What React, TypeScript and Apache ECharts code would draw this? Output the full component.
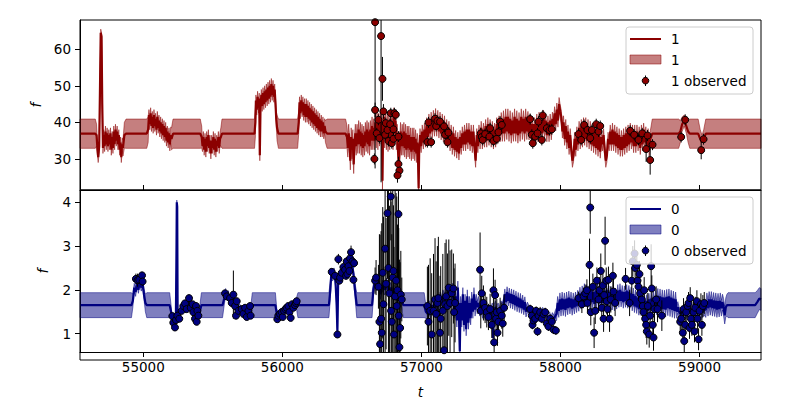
import React, { useEffect, useRef } from "react";
import * as echarts from "echarts";

const X_MIN = 54545;
const X_MAX = 59442;
const xTicks = [55000, 56000, 57000, 58000, 59000];
const topTicks = [30, 40, 50, 60];
const botTicks = [1, 2, 3, 4];
const topRange = [21.5, 68.0];
const botRange = [0.58, 4.28];

const topName = "1";
const botName = "0";

// GP fit rows: [t, mean, half-width of band]
const topGp: number[][] = [
  [54545,36.9,4],[54655,36.9,4],[54664,36.5,3],[54670,33,2],[54676,30.5,1.5],[54683,33.5,1.5],[54689,50,1.5],[54694,64.5,1],[54700,63.5,1],[54705,45,1.5],
  [54710,33,1.5],[54716,36.5,1.5],[54722,33.5,1.5],[54728,37.5,1.5],[54734,34,1.5],[54740,37,1.5],[54746,33.5,1.5],[54752,36.5,1.5],[54758,34,1.5],[54764,37,1.5],
  [54770,32.5,1.5],[54776,36,1.5],[54782,33,1.5],[54788,37.5,1.5],[54794,34,1.5],[54800,38,1.5],[54806,35,1.5],[54812,37.5,1.5],[54818,34,1.5],[54824,36.5,1.5],
  [54830,32.5,1.5],[54836,34.5,1.5],[54842,30.5,1.5],[54848,34,1.8],[54854,33,2.2],[54864,36.5,3.5],[54876,36.9,4],
  [55025,36.9,4],[55035,38,3.5],[55041,42,1.5],[55047,39.5,1.5],[55053,42.5,1.5],[55059,39,1.5],[55065,41.5,1.5],[55071,38.5,1.5],[55077,42,1.5],[55083,39,1.5],
  [55089,41,1.5],[55095,38,1.5],[55101,41.5,1.5],[55107,38.5,1.5],[55113,40.5,1.5],[55119,37.5,1.5],[55125,40,1.5],[55131,37,1.5],[55137,39.5,1.5],[55143,36.5,1.5],
  [55149,39,1.5],[55155,36,1.5],[55161,38.5,1.5],[55167,35,1.5],[55173,37.5,1.5],[55179,34.5,1.5],[55185,37,1.5],[55191,34,1.8],[55197,36.5,2.2],[55203,35.5,3],
  [55214,36.9,4],
  [55410,36.9,4],[55420,36,3],[55426,33.5,1.5],[55432,36,1.5],[55438,32.5,1.5],[55444,35.5,1.5],[55450,32,1.5],[55456,36,1.5],[55462,33.5,1.5],[55468,36.5,1.5],
  [55474,33,1.5],[55480,35,1.5],[55486,31.5,1.5],[55492,35,1.5],[55498,33,1.5],[55504,36,1.5],[55510,32.5,1.5],[55516,35.5,1.5],[55522,32,1.5],[55528,35,1.5],
  [55534,33.5,1.5],[55540,36,1.5],[55546,33,1.5],[55552,35.5,1.8],[55558,36,2.5],[55566,36.9,4],
  [55800,36.9,4],[55806,40,4],[55810,46,1.5],[55816,43.5,1.5],[55822,47,1.5],[55828,44,1.5],[55834,46.5,1.5],[55838,31,1.5],[55843,44,1.5],[55849,47.5,1.5],
  [55855,44.5,1.5],[55861,48,1.5],[55867,45,1.5],[55873,48.5,1.5],[55879,45.5,1.5],[55885,49,1.5],[55891,46,1.5],[55897,49.5,1.5],[55903,46.5,1.5],[55909,50,1.5],
  [55915,47,1.5],[55921,50.5,1.5],[55927,47.5,1.5],[55933,50,1.5],[55939,47,1.5],[55945,49,1.5],[55951,45,1.5],[55956,41,2],[55962,38.5,3.5],[55972,36.9,4],
  [56110,36.9,4],[56118,40,3],[56124,45.5,1.5],[56130,42.5,1.5],[56136,46,1.5],[56142,43,1.5],[56148,45.5,1.5],[56154,42,1.5],[56160,45,1.5],[56166,41.5,1.5],
  [56172,45,1.5],[56178,41.5,1.5],[56184,44.5,1.5],[56190,41,1.5],[56196,44,1.5],[56202,40.5,1.5],[56208,43.5,1.5],[56214,40,1.5],[56220,43,1.5],[56226,39.5,1.5],
  [56232,42.5,1.5],[56238,39,1.5],[56244,42,1.5],[56250,38.5,1.5],[56256,41.5,1.5],[56262,38,1.5],[56268,41,1.5],[56274,37.5,1.5],[56280,40.5,1.5],[56286,37.5,1.5],
  [56292,40,1.5],[56298,37,1.5],[56304,39,2],[56310,37.5,3],[56322,36.9,4],
  [56455,36.9,4],[56465,36,3],[56471,33,2.5],[56477,37,2.5],[56483,34,2.5],[56489,29.5,2.5],[56495,36,2.5],[56501,32.5,2.5],[56507,35.5,2.5],[56513,28.5,2.5],
  [56519,34,2.5],[56525,37,2.5],[56531,33.5,2.5],[56537,37,2.5],[56543,34,2.5],[56549,38,2.5],[56555,34,2.5],[56561,37.5,2.5],[56567,33.5,2.5],[56573,37,2.5],
  [56579,33,2.5],[56585,36.5,2.5],[56591,33.5,2.5],[56597,37.5,2.5],[56603,34.5,2.5],[56609,38,2.5],[56615,34,2.5],[56621,37.5,2.5],[56627,33.5,2.5],[56633,38,2.5],
  [56639,35,2.5],[56645,39,2.5],[56651,35,2.5],[56657,38.5,2.5],[56663,35,2.5],[56669,40,2.5],[56675,35.5,2.5],[56681,41,2.5],[56687,35,2.5],[56693,40,2.5],
  [56699,36,2.5],[56705,41,2.5],[56711,36.5,2.5],[56717,40,2.5],[56720,24,2.5],[56724,38,2.5],[56730,41.5,2.5],[56736,35.5,2.5],[56742,40,2.5],[56748,35,2.5],
  [56754,40.5,2.5],[56760,34.5,2.5],[56766,39.5,2.5],[56772,35,2.5],[56778,41,2.5],[56784,36,2.5],[56790,40,2.5],[56796,35,2.5],[56802,41.5,2.5],[56808,37,2.5],
  [56814,40.5,2.5],[56820,35,2.5],[56826,37,2.5],[56832,32,2.5],[56838,28.5,2.5],[56844,33,2.5],[56850,37.5,2.5],[56856,33.5,2.5],[56862,37,2.5],[56868,33.5,2.5],
  [56874,37.5,2.5],[56880,33,2.5],[56886,37,2.5],[56892,32.5,2.5],[56898,36.5,2.5],[56904,33,2.5],[56910,36.5,2.5],[56916,32.5,2.5],[56922,36,2.5],[56928,32,2.5],
  [56934,36,2.5],[56940,32.5,2.5],[56946,36,2.5],[56952,32,2.5],[56958,35.5,2.5],[56964,31.5,2.5],[56970,34.5,2.5],[56976,29.5,2.5],[56980,22,2.5],[56984,32,2.5],
  [56990,36.5,1.8],[56998,33.5,1.8],[57006,37.5,1.8],[57014,34.5,1.8],[57022,38,1.8],[57030,35,1.8],[57038,39.5,1.8],[57046,36,1.8],[57054,40.5,1.8],[57062,37,1.8],
  [57070,41,1.8],[57078,37.5,1.8],[57086,41.5,1.8],[57094,38,1.8],[57102,42,1.8],[57110,38,1.8],[57118,41.5,1.8],[57126,37.5,1.8],[57134,41,1.8],[57142,37,1.8],
  [57150,40.5,1.8],[57158,36.5,1.8],[57166,40,1.8],[57174,35.5,1.8],[57182,39,1.8],[57190,35,1.8],[57198,38.5,1.8],[57206,34,1.8],[57214,37.5,1.8],[57222,33,1.8],
  [57230,37,1.8],[57238,32.5,1.8],[57246,36,1.8],[57254,32,1.8],[57262,35.5,1.8],[57270,31.5,1.8],[57278,36,1.8],[57286,33,1.8],[57294,37,1.8],[57302,34,1.8],
  [57310,37.5,1.8],[57318,34,1.8],[57326,38,1.8],[57334,34.5,1.8],[57342,38,1.8],[57350,34,1.8],[57358,37.5,1.8],[57366,33.5,1.8],[57374,37.5,1.8],[57382,33,1.8],
  [57390,29.5,1.8],[57398,36.5,1.8],[57406,33.5,1.8],[57414,37.5,1.8],[57422,34.5,1.8],[57430,38.5,1.8],[57438,34.5,1.8],[57446,38,1.8],[57454,35,1.8],[57462,39,1.8],
  [57470,35,1.8],[57478,39.5,1.8],[57486,35.5,1.8],[57494,39,1.8],[57502,35,1.8],[57510,38.5,1.8],[57518,34.5,1.8],[57526,38,1.8],[57534,35,1.8],[57542,39.5,1.8],
  [57550,36,1.8],[57558,40,1.8],[57566,36.5,1.8],[57574,40.5,2.2],[57582,37,2.2],[57590,41,2.2],[57598,37,2.2],[57606,41.5,2.2],[57614,37.5,2.2],[57622,41.5,2.2],
  [57630,37,2.2],[57638,41,2.2],[57646,36.5,2.2],[57654,40.5,2.2],[57662,37,2.2],[57670,41.5,2.2],[57678,37,2.2],[57686,41,2.2],[57694,36.5,2.2],[57702,40.5,2.2],
  [57710,37,2.2],[57718,41.5,2.2],[57726,37.5,2.2],[57734,41,2.2],[57742,37,2.2],[57750,41.5,2.2],[57758,37.5,2.2],[57766,41,2],[57774,37,1.8],[57782,40.5,1.8],
  [57790,36,1.8],[57798,39.5,1.8],[57806,35.5,1.8],[57814,39.5,1.8],[57822,36,1.8],[57830,40.5,1.8],[57838,36.5,1.8],[57846,41,1.8],[57854,37,1.8],[57862,40.5,1.8],
  [57870,37,1.8],[57878,41.5,1.8],[57886,37.5,1.8],[57894,40.5,1.8],[57902,36.5,1.8],[57910,40,1.8],[57918,36.5,1.8],[57926,40.5,1.8],[57934,37,1.8],[57942,41,1.8],
  [57950,39,1.8],[57958,42.5,1.8],[57966,39.5,1.8],[57974,43.5,1.8],[57982,40.5,1.8],[57990,45,1.8],[57998,43,1.8],[58006,41.5,1.8],[58014,37.5,1.8],[58022,40,1.8],
  [58030,35.5,1.8],[58038,39,1.8],[58046,34.5,1.8],[58054,37.5,1.8],[58062,33,1.8],[58070,36.5,1.8],[58078,32.5,1.8],[58086,29.5,1.8],[58094,31,1.8],[58102,35.5,1.8],
  [58110,32.5,1.8],[58118,37,1.8],[58126,34,1.8],[58134,38.5,1.8],[58142,34.5,1.8],[58150,39,1.8],[58158,35,1.8],[58166,39.5,1.8],[58174,35.5,1.8],[58182,39.5,1.8],
  [58190,35,1.8],[58198,39,1.8],[58206,34.5,1.8],[58214,38.5,1.8],[58222,34,1.8],[58230,38,1.8],[58238,33.5,1.8],[58246,37.5,1.8],[58254,33,1.8],[58262,37,1.8],
  [58270,32.5,1.8],[58278,36.5,1.8],[58286,32,1.8],[58294,36,1.8],[58302,34,1.8],[58310,36.5,1.8],[58318,32.5,1.8],[58326,29.5,1.8],[58334,31,1.8],[58342,35.5,1.8],
  [58350,34,1.8],[58358,37.5,1.8],[58366,34,1.8],[58374,38,1.8],[58382,34,1.8],[58390,37.5,1.8],[58398,33.5,1.8],[58406,37,1.8],[58414,33,1.8],[58422,36.5,1.8],
  [58430,32.5,1.8],[58438,36,1.8],[58446,32.5,1.8],[58454,36.5,1.8],[58462,33,1.8],[58470,37,1.8],[58478,33.5,1.8],[58486,37.5,1.8],[58494,34,1.8],[58502,38,1.8],
  [58510,34.5,1.8],[58518,37.5,1.8],[58526,33.5,1.8],[58534,37.5,1.8],[58542,33.5,1.8],[58550,37.5,1.8],[58558,34,1.8],[58566,37,1.8],[58574,33,1.8],[58582,37.5,1.8],
  [58590,34,1.8],[58598,38,1.8],[58606,34.5,1.8],[58614,37,1.8],[58622,33.5,1.8],[58630,36.5,1.8],[58638,32.5,1.8],[58646,35.5,2.2],[58652,36,3],[58660,36.9,4],
  [58850,36.9,4],[58862,37.5,3],[58875,39.5,2],[58890,40.5,1.5],[58905,39,2],[58918,37.5,3],[58930,36.9,4],
  [58990,36.9,4],[59005,35.5,2.5],[59018,34.5,2],[59030,35.5,2.5],[59045,36.9,4],[59442,36.9,4]
];

const botGp: number[][] = [
  [54545,1.65,0.285],[54915,1.65,0.285],[54925,1.75,0.15],[54935,2.05,0.1],[54945,1.95,0.1],[54955,2.15,0.08],[54965,2.0,0.08],[54975,2.2,0.08],[54985,2.05,0.08],
  [54995,2.15,0.1],[55005,1.9,0.12],[55015,1.7,0.2],[55025,1.65,0.285],
  [55190,1.65,0.285],[55200,1.5,0.15],[55208,1.3,0.08],[55216,1.2,0.08],[55226,1.35,0.08],[55234,1.25,0.08],[55238,2.5,0.1],[55241,4.0,0.05],[55244,3.9,0.05],
  [55247,1.4,0.08],[55256,1.35,0.08],[55266,1.5,0.08],[55276,1.55,0.08],[55286,1.65,0.08],[55296,1.6,0.08],[55306,1.55,0.08],[55316,1.65,0.08],[55326,1.75,0.08],
  [55336,1.6,0.08],[55346,1.55,0.08],[55356,1.6,0.08],[55366,1.45,0.08],[55376,1.35,0.08],[55386,1.3,0.08],[55396,1.4,0.08],[55406,1.5,0.12],[55418,1.65,0.285],
  [55570,1.65,0.285],[55582,1.8,0.15],[55592,1.95,0.08],[55602,1.85,0.08],[55612,1.9,0.08],[55622,1.75,0.08],[55632,1.8,0.08],[55642,1.7,0.08],[55652,1.75,0.08],
  [55662,1.65,0.08],[55672,1.7,0.08],[55682,1.55,0.08],[55692,1.6,0.08],[55702,1.55,0.08],[55712,1.5,0.08],[55722,1.55,0.08],[55732,1.5,0.08],[55742,1.45,0.08],
  [55752,1.5,0.08],[55762,1.55,0.08],[55772,1.5,0.1],[55784,1.65,0.285],
  [55950,1.65,0.285],[55960,1.45,0.12],[55970,1.4,0.08],[55980,1.45,0.08],[55990,1.5,0.08],[56000,1.45,0.08],[56010,1.52,0.08],[56020,1.55,0.08],[56030,1.6,0.08],
  [56040,1.58,0.08],[56050,1.62,0.08],[56060,1.58,0.08],[56070,1.65,0.08],[56080,1.62,0.08],[56090,1.68,0.08],[56100,1.7,0.1],[56112,1.65,0.285],
  [56335,1.65,0.285],[56345,2.0,0.2],[56352,2.35,0.1],[56362,2.3,0.1],[56372,2.4,0.1],[56382,2.2,0.1],[56390,1.7,0.1],[56396,1.05,0.08],[56402,2.3,0.1],
  [56412,2.25,0.1],[56422,2.35,0.1],[56432,2.45,0.1],[56442,2.4,0.1],[56452,2.5,0.1],[56462,2.55,0.1],[56472,2.5,0.1],[56482,2.6,0.1],[56492,2.7,0.1],
  [56502,2.55,0.1],[56512,2.35,0.1],[56522,2.0,0.15],[56535,1.65,0.285],
  [56645,1.65,0.285],[56655,2.0,0.15],[56665,2.2,0.1],[56675,2.1,0.12],[56690,2.2,0.12],[56705,1.9,0.12],[56720,2.1,0.12],[56735,2.0,0.12],[56750,2.15,0.12],
  [56765,1.95,0.12],[56780,2.05,0.12],[56795,1.9,0.12],[56810,2.0,0.12],[56825,1.85,0.12],[56840,1.95,0.12],[56855,1.8,0.15],[56870,1.65,0.285],
  [57020,1.65,0.285],[57032,1.5,0.15],[57045,1.45,0.15],[57055,1.6,0.15],[57065,1.5,0.15],[57075,1.65,0.15],[57085,1.55,0.15],[57095,1.7,0.15],[57105,1.6,0.15],
  [57115,1.75,0.15],[57125,1.65,0.15],[57135,1.8,0.15],[57145,1.7,0.15],[57155,1.85,0.15],[57165,1.75,0.15],[57175,1.9,0.15],[57185,1.8,0.15],[57195,1.95,0.15],
  [57205,1.85,0.15],[57215,1.9,0.15],[57225,2.0,0.15],[57235,1.5,0.15],[57245,1.85,0.15],[57255,1.3,0.15],[57262,2.05,0.15],[57270,1.4,0.15],[57276,0.6,0.1],
  [57282,1.7,0.15],[57290,1.3,0.15],[57298,1.9,0.15],[57306,1.2,0.15],[57314,1.75,0.15],[57322,1.1,0.15],[57330,1.85,0.15],[57338,1.25,0.15],[57346,1.7,0.15],
  [57354,1.35,0.15],[57362,1.8,0.15],[57370,1.5,0.15],[57378,1.9,0.15],[57386,1.55,0.15],[57394,1.75,0.15],[57402,1.6,0.15],[57410,1.7,0.15],[57420,1.55,0.15],
  [57430,1.65,0.15],[57440,1.5,0.15],[57450,1.6,0.15],[57460,1.45,0.15],[57470,1.55,0.15],[57480,1.4,0.15],[57490,1.5,0.15],[57500,1.45,0.15],[57510,1.55,0.15],
  [57516,0.9,0.1],[57522,1.5,0.15],[57532,1.6,0.15],[57542,1.5,0.15],[57552,1.55,0.15],[57562,1.45,0.15],[57572,1.6,0.15],[57582,1.55,0.15],
  [57592,1.7,0.12],[57600,1.9,0.12],[57608,1.72,0.12],[57616,1.95,0.12],[57624,1.75,0.12],[57632,1.92,0.12],[57640,1.7,0.12],[57648,1.9,0.12],[57656,1.68,0.12],
  [57664,1.88,0.12],[57672,1.65,0.12],[57680,1.85,0.12],[57688,1.62,0.12],[57696,1.82,0.12],[57704,1.6,0.12],[57712,1.8,0.12],[57720,1.58,0.12],[57728,1.76,0.12],
  [57736,1.55,0.12],[57744,1.72,0.12],[57752,1.5,0.12],[57762,1.6,0.12],
  [57772,1.55,0.1],[57782,1.45,0.1],[57792,1.5,0.1],[57802,1.4,0.1],[57812,1.45,0.1],[57822,1.35,0.1],[57832,1.42,0.1],[57842,1.38,0.1],[57852,1.45,0.1],
  [57862,1.4,0.1],[57872,1.5,0.1],[57882,1.42,0.1],[57892,1.48,0.1],[57902,1.4,0.1],[57912,1.35,0.1],[57922,1.4,0.1],[57932,1.3,0.1],[57942,1.38,0.1],
  [57952,1.32,0.1],[57962,1.4,0.12],
  [57972,1.45,0.15],[57980,1.7,0.15],[57988,1.52,0.15],[57996,1.78,0.15],[58004,1.55,0.15],[58012,1.8,0.15],[58020,1.56,0.15],[58028,1.78,0.15],[58036,1.54,0.15],
  [58044,1.8,0.15],[58052,1.58,0.15],[58060,1.82,0.15],[58068,1.6,0.15],[58076,1.8,0.15],[58084,1.57,0.15],[58092,1.78,0.15],[58100,1.6,0.15],[58108,1.8,0.15],
  [58116,1.62,0.14],[58124,1.85,0.14],[58132,1.65,0.14],[58140,1.92,0.14],[58148,1.7,0.14],[58156,1.95,0.14],[58164,1.72,0.14],[58172,2.0,0.14],[58180,1.75,0.14],
  [58188,1.98,0.14],[58196,1.72,0.14],[58204,1.95,0.14],[58212,1.7,0.14],[58220,2.0,0.14],[58228,1.72,0.14],[58236,1.95,0.14],[58244,1.68,0.14],[58252,1.98,0.14],
  [58260,1.72,0.14],[58268,2.0,0.14],[58276,1.74,0.14],[58284,1.96,0.14],[58292,1.7,0.14],[58300,1.95,0.14],[58308,1.7,0.14],[58316,1.97,0.14],[58324,1.72,0.14],
  [58332,2.0,0.14],[58340,1.74,0.14],[58348,1.95,0.14],[58356,1.7,0.14],[58364,1.93,0.14],[58372,1.68,0.14],[58380,1.92,0.14],[58388,1.66,0.14],[58396,1.9,0.14],
  [58404,1.7,0.14],[58412,1.98,0.14],[58420,1.74,0.14],[58428,2.0,0.14],[58436,1.75,0.14],[58444,1.96,0.14],[58452,1.72,0.14],[58460,1.95,0.14],[58468,1.74,0.14],
  [58476,1.98,0.14],[58484,1.72,0.14],[58492,1.96,0.14],[58500,1.72,0.14],[58508,1.92,0.14],[58516,1.66,0.14],[58524,1.9,0.14],[58532,1.62,0.14],[58540,1.86,0.14],
  [58548,1.6,0.14],[58556,1.82,0.14],[58564,1.56,0.14],[58572,1.78,0.14],[58580,1.55,0.14],[58588,1.78,0.14],[58596,1.52,0.14],[58604,1.76,0.14],[58612,1.5,0.14],
  [58620,1.75,0.14],[58628,1.52,0.14],[58636,1.78,0.14],[58644,1.55,0.14],[58652,1.8,0.14],[58660,1.58,0.14],[58668,1.82,0.14],[58676,1.6,0.14],[58684,1.85,0.14],
  [58692,1.6,0.17],[58700,1.86,0.17],[58708,1.58,0.17],[58716,1.85,0.17],[58724,1.57,0.17],[58732,1.83,0.17],[58740,1.56,0.17],[58748,1.82,0.17],[58756,1.55,0.17],
  [58764,1.84,0.17],[58772,1.58,0.17],[58780,1.85,0.17],[58788,1.56,0.17],[58796,1.82,0.17],[58804,1.54,0.17],[58812,1.8,0.17],[58820,1.52,0.17],[58828,1.78,0.17],
  [58836,1.5,0.15],[58844,1.6,0.13],
  [58852,1.5,0.12],[58862,1.45,0.12],[58872,1.5,0.12],[58882,1.42,0.12],[58892,1.5,0.12],[58902,1.45,0.12],[58912,1.55,0.12],[58922,1.5,0.12],[58932,1.58,0.12],
  [58942,1.52,0.12],[58952,1.56,0.12],[58962,1.5,0.12],[58972,1.55,0.12],[58982,1.48,0.12],[58992,1.52,0.12],[59002,1.45,0.12],[59012,1.5,0.12],[59022,1.48,0.12],
  [59032,1.55,0.12],
  [59045,1.55,0.18],[59053,1.75,0.18],[59061,1.58,0.18],[59069,1.78,0.18],[59077,1.6,0.18],[59085,1.78,0.18],[59093,1.58,0.18],[59101,1.76,0.18],[59109,1.57,0.18],
  [59117,1.75,0.18],[59125,1.55,0.18],[59133,1.74,0.18],[59141,1.56,0.18],[59149,1.75,0.18],[59157,1.58,0.18],[59165,1.72,0.18],[59173,1.6,0.2],[59181,1.42,0.2],
  [59189,1.6,0.22],[59197,1.65,0.25],[59205,1.65,0.285],
  [59400,1.65,0.285],[59415,1.72,0.26],[59430,1.8,0.25],[59442,1.78,0.25]
];

// Observations: [t, value, error]
const topObs: number[][] = [
  [56662,30.0,1.5],[56667,43.4,2],[56667,67.4,40],[56679,37.0,1.5],[56691,40.7,1.5],[56698,35.7,1.5],[56710,63.6,40],[56720,51.9,6],[56727,43.0,2],
  [56739,36.6,1.5],[56744,39.8,1.5],[56756,37.9,1.5],[56763,34.9,1.5],[56775,39.5,1.5],[56780,42.5,1.5],[56787,34.3,1.5],[56799,35.5,1.5],[56799,38.1,1.5],
  [56806,42.5,1.5],[56816,42.1,1.5],[56835,36.1,1.5],[56835,28.6,2],[56842,26.8,2],[56828,25.5,2],
  [57043,34.6,1.5],[57051,40.0,1.5],[57070,34.6,1.5],[57098,41.0,1.5],[57106,39.0,1.5],[57115,40.4,1.5],[57134,40.2,1.5],[57163,38.9,1.5],[57170,36.6,1.5],
  [57187,34.6,1.5],[57194,37.2,1.5],
  [57427,37.0,1.5],[57434,36.0,1.5],[57441,35.2,1.5],[57458,36.8,1.5],[57489,36.1,1.5],[57494,38.4,1.5],[57518,34.9,1.5],[57542,35.5,1.5],[57554,37.3,1.5],
  [57566,40.2,1.5],[57578,39.3,1.5],
  [57782,40.9,1.5],[57794,36.6,1.5],[57801,34.3,1.5],[57818,36.1,1.5],[57835,37.0,1.5],[57842,40.2,1.5],[57866,35.2,1.5],[57873,41.9,1.5],[57902,38.4,1.5],
  [57921,37.9,1.5],[57938,38.1,1.5],
  [58130,36.8,1.5],[58149,35.2,1.5],[58170,39.3,1.5],[58194,37.9,1.5],[58214,35.7,1.5],[58226,37.9,1.5],[58257,39.5,1.5],[58274,37.5,1.5],[58286,39.0,1.5],
  [58501,37.7,1.5],[58530,36.6,1.5],[58561,35.2,1.5],[58588,37.0,1.5],[58616,32.7,3.5],[58626,36.4,1.5],[58645,29.7,4],[58662,33.9,1.5],
  [58868,36.0,1.5],[58897,40.7,1.5],[59012,32.4,2.5],[59029,35.4,1.5]
];

const botObs: number[][] = [
  [54947,2.25,0.12],[54959,2.22,0.15],[54971,2.23,0.1],[54991,2.33,0.08],[54995,2.19,0.1],
  [55209,1.40,0.05],[55216,1.25,0.06],[55228,1.14,0.06],[55235,1.31,0.05],[55245,1.41,0.05],[55259,1.34,0.05],[55276,1.52,0.06],[55288,1.63,0.06],[55300,1.69,0.05],
  [55312,1.56,0.05],[55329,1.81,0.08],[55341,1.59,0.05],[55355,1.67,0.06],[55360,1.49,0.05],[55372,1.34,0.05],[55379,1.63,0.06],[55384,1.27,0.05],[55389,1.52,0.06],
  [55396,1.41,0.06],
  [55588,1.92,0.06],[55600,1.85,0.06],[55624,1.81,0.06],[55636,1.70,0.06],[55648,1.89,0.55],[55660,1.63,0.08],[55667,1.41,0.06],[55672,1.74,0.08],[55684,1.52,0.06],
  [55708,1.56,0.06],[55720,1.45,0.06],[55732,1.59,0.06],[55744,1.38,0.06],[55756,1.52,0.06],[55768,1.63,0.06],[55772,1.41,0.06],
  [55964,1.33,0.05],[55971,1.41,0.05],[55983,1.45,0.05],[55995,1.49,0.05],[56003,1.38,0.05],[56012,1.52,0.05],[56022,1.56,0.05],[56031,1.59,0.05],[56043,1.63,0.05],
  [56051,1.49,0.05],[56060,1.36,0.05],[56070,1.67,0.05],[56079,1.59,0.05],[56091,1.65,0.05],[56098,1.70,0.05],[56103,1.74,0.05],
  [56355,2.41,0.08],[56379,2.32,0.08],[56396,0.98,0.05],[56403,2.70,0.12],[56410,2.21,0.08],[56415,2.28,0.08],[56427,2.39,0.08],[56439,2.52,0.08],[56451,2.46,0.08],
  [56458,2.32,0.08],[56463,2.65,0.1],[56468,2.36,0.08],[56475,2.54,0.08],[56482,2.43,0.08],[56487,2.72,0.1],[56494,2.86,0.15],[56504,2.65,0.1],[56511,2.23,0.08],
  [56516,2.61,0.1],
  [56667,2.21,0.3],[56674,2.28,0.4],[56691,2.07,0.5],[56698,1.27,2.0],[56703,0.76,2.5],[56710,1.34,2.0],[56715,1.02,2.5],[56722,2.39,1.5],[56727,1.67,2.0],
  [56739,2.94,2.5],[56746,2.14,1.5],[56756,3.75,1.5],[56763,2.50,2.0],[56770,1.92,2.0],[56780,4.13,1.0],[56782,1.52,2.5],[56787,1.27,2.0],[56794,2.28,2.0],
  [56799,2.43,1.5],[56803,0.98,2.0],[56811,1.85,2.5],[56818,2.21,2.0],[56823,1.63,2.5],[56828,1.99,1.5],[56835,3.73,1.5],[56837,1.41,2.0],[56842,0.69,2.0],
  [56847,1.13,1.5],[56852,1.89,1.0],[56859,1.78,0.5],
  [57043,1.63,0.9],[57051,1.27,1.3],[57063,1.52,1.2],[57074,0.98,1.4],[57087,1.52,1.3],[57098,1.78,1.4],[57106,1.45,1.2],[57115,1.70,1.3],[57122,1.81,1.4],
  [57134,1.02,1.3],[57139,1.34,1.2],[57154,1.52,1.3],[57163,0.62,0.8],[57170,1.67,1.4],[57178,1.85,1.3],[57187,1.63,1.2],[57197,2.05,1.1],[57206,1.70,1.2],
  [57218,1.92,1.0],[57230,2.03,0.8],[57235,1.49,1.0],[57242,1.70,0.9],
  [57422,2.46,0.85],[57427,1.52,0.4],[57434,1.92,0.4],[57446,1.70,0.4],[57458,1.59,0.35],[57470,1.49,0.35],[57482,1.38,0.3],[57494,1.56,0.35],[57506,1.20,0.3],
  [57518,1.99,0.5],[57523,0.80,0.3],[57530,1.88,0.35],[57537,1.34,0.3],[57542,1.49,0.3],[57547,1.02,0.3],[57554,1.27,0.3],[57566,1.52,0.3],[57578,1.41,0.3],
  [57585,1.23,0.3],[57595,1.59,0.3],
  [57782,1.56,0.1],[57794,1.41,0.1],[57799,1.20,0.1],[57806,1.30,0.1],[57818,1.34,0.1],[57825,1.52,0.1],[57835,1.05,0.1],[57842,1.41,0.1],[57854,1.49,0.12],
  [57866,1.34,0.1],[57878,1.45,0.1],[57890,1.49,0.1],[57902,1.23,0.1],[57914,1.16,0.1],[57926,1.34,0.1],[57938,1.27,0.1],[57950,1.09,0.1],[57967,1.07,0.1],
  [58130,1.81,0.15],[58154,1.67,0.2],[58166,1.85,0.2],[58178,1.92,0.2],[58190,1.99,0.25],[58194,1.70,0.2],[58209,2.57,0.6],[58214,3.88,0.6],[58218,1.49,0.3],
  [58233,2.07,0.3],[58242,1.02,0.35],[58250,1.52,0.3],[58262,2.21,0.3],[58274,1.78,0.3],[58281,1.99,0.3],[58290,2.43,0.4],[58297,1.59,0.3],[58305,2.10,0.35],
  [58310,1.34,0.3],[58314,1.88,0.3],[58321,3.12,0.55],[58329,2.21,0.3],[58333,1.74,0.3],[58338,1.56,0.3],[58345,2.23,0.3],[58353,1.34,0.3],[58362,1.78,0.3],
  [58377,2.32,0.3],[58381,1.96,0.3],[58393,1.70,0.3],
  [58468,2.25,0.25],[58497,1.70,0.3],[58513,2.21,0.3],[58520,2.65,0.35],[58533,2.83,0.3],[58537,2.50,0.3],[58549,2.57,0.3],[58554,2.21,0.3],[58561,2.07,0.3],
  [58568,2.36,0.3],[58573,1.92,0.3],[58585,1.78,0.3],[58592,1.63,0.3],[58597,1.49,0.3],[58602,1.99,0.3],[58609,1.34,0.3],[58616,1.20,0.3],[58621,1.05,0.3],
  [58628,1.63,0.3],[58638,0.98,0.3],[58645,1.41,0.3],[58652,2.54,0.5],[58657,2.03,0.3],[58664,1.20,0.3],[58669,0.91,0.3],[58676,1.56,0.3],[58688,1.78,0.3],
  [58698,1.56,0.3],[58729,1.41,0.35],
  [58861,1.27,0.25],[58868,1.34,0.25],[58880,1.02,0.25],[58885,1.56,0.25],[58890,0.83,0.25],[58897,1.20,0.25],[58904,1.49,0.25],[58914,1.63,0.25],[58921,1.70,0.25],
  [58928,1.13,0.25],[58933,1.81,0.25],[58938,1.34,0.25],[58945,1.20,0.25],[58957,1.49,0.25],[58964,1.05,0.25],[58969,1.59,0.25],[58981,1.74,0.25],[58986,1.34,0.25],
  [58993,0.87,0.25],[59000,1.52,0.25],[59010,1.67,0.25],[59017,1.20,0.25],[59024,1.63,0.25],[59034,1.70,0.25]
];

const FONT = "DejaVu Sans";
const FS = 13.5;

function clampY(p: number[], cs: any) {
  return [p[0], Math.min(cs.y + cs.height, Math.max(cs.y, p[1]))];
}

function bandSeries(gp: number[][], idx: number, fill: string) {
  return {
    type: "custom",
    xAxisIndex: idx,
    yAxisIndex: idx,
    silent: true,
    z: 1,
    data: [[gp[0][0], gp[0][1]]],
    renderItem: (params: any, api: any) => {
      const cs = params.coordSys;
      const pts: number[][] = [];
      for (const r of gp) pts.push(clampY(api.coord([r[0], r[1] - r[2]]), cs));
      for (let i = gp.length - 1; i >= 0; i--) pts.push(clampY(api.coord([gp[i][0], gp[i][1] + gp[i][2]]), cs));
      return { type: "polygon", shape: { points: pts }, style: { fill, stroke: fill, lineWidth: 1 } };
    },
  };
}

function errSeries(obs: number[][], idx: number) {
  return {
    type: "custom",
    xAxisIndex: idx,
    yAxisIndex: idx,
    silent: true,
    z: 3,
    data: obs,
    encode: { x: 0, y: 1 },
    renderItem: (params: any, api: any) => {
      const cs = params.coordSys;
      const t = api.value(0), v = api.value(1), e = api.value(2);
      const a = clampY(api.coord([t, v - e]), cs);
      const b = clampY(api.coord([t, v + e]), cs);
      return { type: "line", shape: { x1: a[0], y1: a[1], x2: b[0], y2: b[1] }, style: { stroke: "#000", lineWidth: 1 } };
    },
  };
}

function legendGraphic(y0: number, color: string, fill: string, name: string) {
  const tx = 671;
  return [
    { type: "rect", shape: { x: 626, y: y0, width: 127, height: 67, r: 3 }, style: { fill: "rgba(255,255,255,0.8)", stroke: "#cccccc", lineWidth: 1 }, z: 100 },
    { type: "line", shape: { x1: 630, y1: y0 + 12, x2: 661, y2: y0 + 12 }, style: { stroke: color, lineWidth: 2 }, z: 101 },
    { type: "text", style: { text: name, x: tx, y: y0 + 12, fontSize: FS, fontFamily: FONT, fill: "#000", verticalAlign: "middle" }, z: 101 },
    { type: "rect", shape: { x: 630, y: y0 + 28, width: 31, height: 9 }, style: { fill, stroke: fill, lineWidth: 1 }, z: 101 },
    { type: "text", style: { text: name, x: tx, y: y0 + 32.5, fontSize: FS, fontFamily: FONT, fill: "#000", verticalAlign: "middle" }, z: 101 },
    { type: "line", shape: { x1: 645.5, y1: y0 + 48.5, x2: 645.5, y2: y0 + 59 }, style: { stroke: "#000", lineWidth: 1 }, z: 101 },
    { type: "circle", shape: { cx: 645.5, cy: y0 + 53.7, r: 3.3 }, style: { fill: color, stroke: "#000", lineWidth: 1 }, z: 102 },
    { type: "text", style: { text: name + " observed", x: tx, y: y0 + 53.7, fontSize: FS, fontFamily: FONT, fill: "#000", verticalAlign: "middle" }, z: 101 },
  ];
}

export default function App() {
  const ref = useRef<HTMLDivElement>(null);
  useEffect(() => {
    document.body.style.margin = "0";
    const chart = echarts.init(ref.current!, null, { renderer: "svg" });
    const axisLine = { show: true, lineStyle: { color: "#000", width: 1 } };
    const labelStyle = { color: "#000", fontSize: FS, fontFamily: FONT };
    const red = "#8b0000";
    const navy = "#000080";
    const redFill = "rgba(139,0,0,0.5)";
    const navyFill = "rgba(0,0,128,0.5)";
    chart.setOption({
      animation: false,
      grid: [
        { left: 80, right: 39, top: 20, height: 170 },
        { left: 80, right: 39, top: 190, height: 170 },
      ],
      xAxis: [
        {
          gridIndex: 0, type: "value", min: X_MIN, max: X_MAX, axisLine,
          axisTick: { show: true, inside: true, length: 5, customValues: xTicks, lineStyle: { color: "#000" } },
          axisLabel: { show: false }, splitLine: { show: false },
        },
        {
          gridIndex: 1, type: "value", min: X_MIN, max: X_MAX, axisLine,
          axisTick: { show: true, length: 5, customValues: xTicks, lineStyle: { color: "#000" } },
          axisLabel: { ...labelStyle, margin: 8, customValues: xTicks, formatter: (v: number) => String(v) },
          splitLine: { show: false },
          name: "t", nameLocation: "middle", nameGap: 33,
          nameTextStyle: { ...labelStyle, fontStyle: "italic" },
        },
      ],
      yAxis: [
        {
          gridIndex: 0, type: "value", min: topRange[0], max: topRange[1], axisLine,
          axisTick: { show: true, length: 5, customValues: topTicks, lineStyle: { color: "#000" } },
          axisLabel: { ...labelStyle, margin: 9, customValues: topTicks, formatter: (v: number) => String(v) },
          splitLine: { show: false },
          name: "f", nameLocation: "middle", nameGap: 36,
          nameTextStyle: { ...labelStyle, fontStyle: "italic" },
        },
        {
          gridIndex: 1, type: "value", min: botRange[0], max: botRange[1], axisLine,
          axisTick: { show: true, length: 5, customValues: botTicks, lineStyle: { color: "#000" } },
          axisLabel: { ...labelStyle, margin: 9, customValues: botTicks, formatter: (v: number) => String(v) },
          splitLine: { show: false },
          name: "f", nameLocation: "middle", nameGap: 30,
          nameTextStyle: { ...labelStyle, fontStyle: "italic" },
        },
      ],
      series: [
        bandSeries(topGp, 0, redFill),
        {
          type: "line", name: topName, xAxisIndex: 0, yAxisIndex: 0, showSymbol: false, z: 2,
          data: topGp.map((r) => [r[0], r[1]]), lineStyle: { color: red, width: 2.2 }, itemStyle: { color: red },
        },
        errSeries(topObs, 0),
        {
          type: "scatter", name: topName + " observed", xAxisIndex: 0, yAxisIndex: 0, z: 4, symbolSize: 7,
          data: topObs.map((o) => [o[0], o[1]]), itemStyle: { color: red, borderColor: "#000", borderWidth: 1, opacity: 1 },
        },
        bandSeries(botGp, 1, navyFill),
        {
          type: "line", name: botName, xAxisIndex: 1, yAxisIndex: 1, showSymbol: false, z: 2,
          data: botGp.map((r) => [r[0], r[1]]), lineStyle: { color: navy, width: 2.2 }, itemStyle: { color: navy },
        },
        errSeries(botObs, 1),
        {
          type: "scatter", name: botName + " observed", xAxisIndex: 1, yAxisIndex: 1, z: 4, symbolSize: 7,
          data: botObs.map((o) => [o[0], o[1]]), itemStyle: { color: navy, borderColor: "#000", borderWidth: 1, opacity: 1 },
        },
      ],
      graphic: [
        { type: "rect", shape: { x: 80, y: 20, width: 681, height: 170 }, style: { fill: "none", stroke: "#000", lineWidth: 1 }, z: 90, silent: true },
        { type: "rect", shape: { x: 80, y: 190, width: 681, height: 170 }, style: { fill: "none", stroke: "#000", lineWidth: 1 }, z: 90, silent: true },
        ...legendGraphic(27, red, redFill, topName),
        ...legendGraphic(197, navy, navyFill, botName),
      ],
    });
    return () => chart.dispose();
  }, []);
  return <div ref={ref} style={{ width: 800, height: 400 }} />;
}
